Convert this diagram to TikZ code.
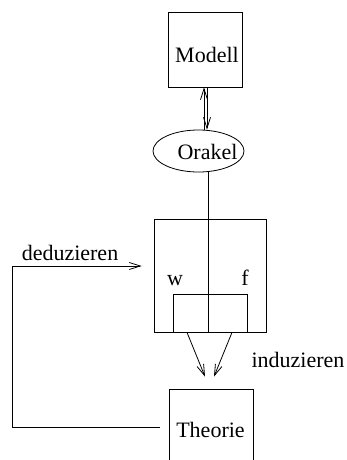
\documentclass[tikz,border=0pt]{standalone}
\usepackage{fontspec}
\setmainfont{Liberation Serif}
\usetikzlibrary{arrows.meta,shapes.geometric,calc}
\begin{document}
\begin{tikzpicture}[x=1pt,y=-1pt,line width=0.8pt,
  box/.style={draw,rectangle,inner sep=0pt},
  lbl/.style={inner sep=0pt,anchor=base,font=\fontsize{22}{26}\selectfont},
  tip/.style={-{Straight Barb[length=11pt,width=7pt,line width=0.8pt]}}]
\useasboundingbox (0,0) rectangle (347,460);
\node[box,minimum width=74pt,minimum height=75pt] (modell) at (205.5,49.5) {};
\node[lbl] (modelltxt) at (207,63) {Modell};
\node[draw,ellipse,inner sep=0pt,minimum width=91pt,minimum height=42pt] (orakel) at (198.5,151) {};
\node[lbl] (orakeltxt) at (207.5,159) {Orakel};
\node[box,minimum width=112pt,minimum height=113pt] (big) at (210,275.5) {};
\node[box,minimum width=74pt,minimum height=38pt] (inner) at (210,313) {};
\node[lbl] (w) at (175,285) {w};
\node[lbl] (f) at (245,285) {f};
\node[box,minimum width=84pt,minimum height=76pt] (theorie) at (211,427) {};
\node[lbl] (theorietxt) at (210.5,437) {Theorie};
\node[lbl] (ded) at (70,260) {deduzieren};
\node[lbl] (ind) at (298,367) {induzieren};
% Modell <-> Orakel
\draw[tip] ($(orakel.north)+(5.5,0)$) -- ($(modell.south)+(-1.5,0)$);
\draw[tip] ($(modell.south)+(1.5,0)$) -- ($(orakel.north)+(8.5,0)$);
% Orakel to inner box
\coordinate (ob) at ($(orakel.center)+(9.5,20.5)$);
\draw (ob) -- (ob |- inner.south);
% induzieren arrows
\draw[tip] ($(inner.south)+(-23,0)$) -- ($(theorie.north)+(-6,-12)$);
\draw[tip] ($(inner.south)+(22,0)$) -- ($(theorie.north)+(3,-12)$);
% deduzieren
\coordinate (dstart) at ($(theorie.west)+(-9,0)$);
\coordinate (dend) at ($(big.west)+(-12,-9.5)$);
\draw[tip] (dstart) -| (12,266) -- (dend);
\end{tikzpicture}
\end{document}
